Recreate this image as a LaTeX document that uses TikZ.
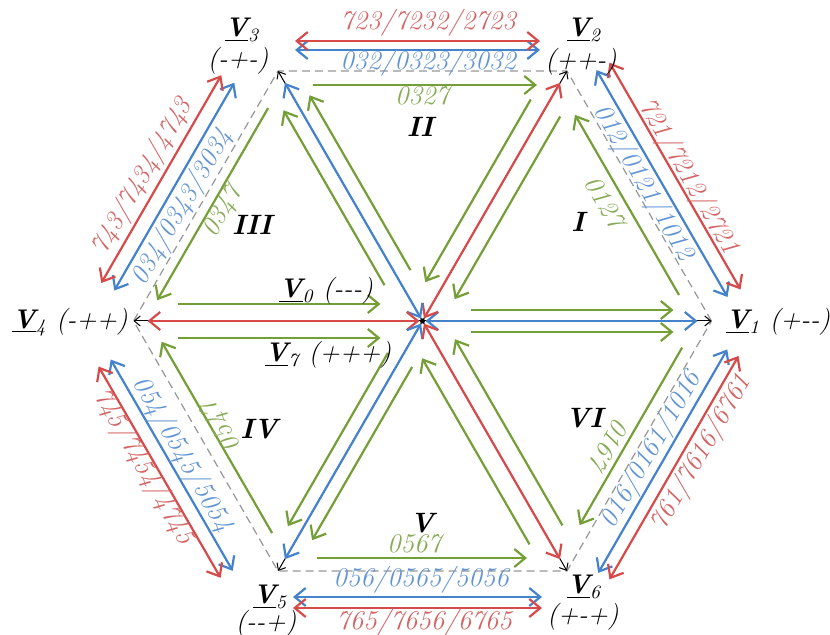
\documentclass[tikz,border=0pt]{standalone}
\usetikzlibrary{arrows.meta,calc}
\definecolor{cred}{RGB}{214,74,74}
\definecolor{cblue}{RGB}{68,130,204}
\definecolor{cgreen}{RGB}{116,158,54}
\definecolor{tred}{RGB}{212,100,100}
\definecolor{tblue}{RGB}{98,148,212}
\definecolor{tgreen}{RGB}{134,170,84}
\definecolor{hexgray}{RGB}{150,150,150}
\newcommand\Vv[1]{\underline{\textbf{\textit{V}}}\textsubscript{\textit{#1}}}
\tikzset{
  grn/.style={draw=cgreen, line width=1.1pt, -{Straight Barb[length=5.5pt,width=9pt]}},
  dbl/.style={line width=1.1pt, {Straight Barb[length=5.5pt,width=9pt]}-{Straight Barb[length=5.5pt,width=9pt]}},
  blk/.style={draw=black, line width=0.5pt, -{Straight Barb[length=3pt,width=5pt]}},
  hexedge/.style={draw=hexgray, line width=0.6pt, dash pattern=on 4pt off 2.5pt},
  txt/.style={font=\fontsize{13.5}{16}\selectfont\itshape, inner sep=0pt},
  rtxt/.style={txt, text=tred},
  btxt/.style={txt, text=tblue},
  gtxt/.style={txt, text=tgreen},
  numtxt/.style={font=\fontsize{14}{16}\selectfont\bfseries\itshape, inner sep=0pt},
}
\begin{document}
\begin{tikzpicture}[x=0.5pt,y=-0.5pt]
\useasboundingbox (0,0) rectangle (830,635);
% vertices
\coordinate (O) at (422.5,321);
\coordinate (V1) at (711.5,321);
\coordinate (V2) at (567,71);
\coordinate (V3) at (278,71);
\coordinate (V4) at (133.5,321);
\coordinate (V5) at (278,571);
\coordinate (V6) at (567,571);
% dashed hexagon
\draw[hexedge] (V1) -- (V2) -- (V3) -- (V4) -- (V5) -- (V6) -- cycle;
% radial arrows
\foreach \k/\ux/\uy/\nx/\ny/\dd/\ra/\rb/\col in {
 1/1/0/0/1/11/48/251/cblue,
 2/0.5/-0.866/0.866/0.5/17/35/246/cred,
 3/-0.5/-0.866/0.866/-0.5/15/50/252/cblue,
 4/-1/0/0/1/17/42/245/cred,
 5/-0.5/0.866/0.866/0.5/14/45/245/cblue,
 6/0.5/0.866/0.866/-0.5/19/32/247/cred}{
  \draw[blk] (O) -- (V\k);
  \coordinate (rca\k) at ($(O)+3*(\ux,\uy)$);
  \coordinate (rcb\k) at ($(O)+275*(\ux,\uy)$);
  \draw[dbl, draw=\col] (rca\k) -- (rcb\k);
  \coordinate (gpa\k) at ($(O)+\ra*(\ux,\uy)+\dd*(\nx,\ny)$);
  \coordinate (gpb\k) at ($(O)+\rb*(\ux,\uy)+\dd*(\nx,\ny)$);
  \coordinate (gqa\k) at ($(O)+\ra*(\ux,\uy)-\dd*(\nx,\ny)$);
  \coordinate (gqb\k) at ($(O)+\rb*(\ux,\uy)-\dd*(\nx,\ny)$);
  \ifodd\k
    \draw[grn] (gpa\k) -- (gpb\k);
    \draw[grn] (gqa\k) -- (gqb\k);
  \else
    \draw[grn] (gpb\k) -- (gpa\k);
    \draw[grn] (gqb\k) -- (gqa\k);
  \fi
}
\node[circle, fill=black, inner sep=0pt, minimum size=2.5pt] (Od) at (O) {};
% edge arrows
\foreach \i/\A/\B/\ux/\uy/\nx/\ny/\bo/\ro/\ea/\eb/\gi/\gpp/\gqq/\gd in {
 1/V3/V2/1/0/0/-1/21/30/17/262/14/35/259/1,
 2/V2/V1/0.5/0.866/0.866/-0.5/26/41/14/276/15/42/250/0,
 3/V3/V4/-0.5/0.866/-0.866/-0.5/32/47/32/272/10/37/259/1,
 4/V4/V5/0.5/0.866/-0.866/0.5/39/53/22/266/14/32/253/0,
 5/V5/V6/1/0/0/1/26/37/15/264/13/39/249/1,
 6/V6/V1/0.5/-0.866/0.866/0.5/28/41/14/272/12/46/251/0}{
  \coordinate (eba\i) at ($(\A)+\ea*(\ux,\uy)+\bo*(\nx,\ny)$);
  \coordinate (ebb\i) at ($(\A)+\eb*(\ux,\uy)+\bo*(\nx,\ny)$);
  \coordinate (era\i) at ($(\A)+\ea*(\ux,\uy)+\ro*(\nx,\ny)$);
  \coordinate (erb\i) at ($(\A)+\eb*(\ux,\uy)+\ro*(\nx,\ny)$);
  \draw[dbl, draw=cblue] (eba\i) -- (ebb\i);
  \draw[dbl, draw=cred] (era\i) -- (erb\i);
  \coordinate (ega\i) at ($(\A)+\gpp*(\ux,\uy)-\gi*(\nx,\ny)$);
  \coordinate (egb\i) at ($(\A)+\gqq*(\ux,\uy)-\gi*(\nx,\ny)$);
  \ifnum\gd=1
    \draw[grn] (ega\i) -- (egb\i);
  \else
    \draw[grn] (egb\i) -- (ega\i);
  \fi
}
% edge labels
\node[btxt] (b1) at (428,63) {032/0323/3032};
\node[rtxt] (r1) at (428,23) {723/7232/2723};
\node[btxt, rotate=-60] (b2) at (643,183) {012/0121/1012};
\node[rtxt, rotate=-60] (r2) at (688,177) {721/7212/2721};
\node[btxt, rotate=60] (b3) at (183,207) {034/0343/3034};
\node[rtxt, rotate=60] (r3) at (143,177) {743/7434/4743};
\node[btxt, rotate=-60] (b4) at (182,455) {054/0545/5054};
\node[rtxt, rotate=-60] (r4) at (143,467) {745/7454/4745};
\node[btxt] (b5) at (421,580) {056/0565/5056};
\node[rtxt] (r5) at (424,623) {765/7656/6765};
\node[btxt, rotate=60] (b6) at (652,450) {016/0161/1016};
\node[rtxt, rotate=60] (r6) at (702,453) {761/7616/6761};
% green sequence labels
\node[gtxt] (q2) at (422,96) {0327};
\node[gtxt, rotate=-60] (q1) at (605,202) {0127};
\node[gtxt, rotate=60] (q3) at (223,212) {0347};
\node[gtxt, rotate=120] (q4) at (222,426) {0547};
\node[gtxt] (q5) at (414,544) {0567};
\node[gtxt, rotate=-120] (q6) at (610,444) {0167};
% sector numbers
\node[numtxt] (sI) at (578,222) {I};
\node[numtxt] (sII) at (420,127) {II};
\node[numtxt] (sIII) at (252,225) {III};
\node[numtxt] (sIV) at (259,429) {IV};
\node[numtxt] (sV) at (422,523) {V};
\node[numtxt] (sVI) at (584,418) {VI};
% vertex labels
\node[txt] (L1) at (778,322) {\Vv{1} (+-{}-)};
\node[txt] (L4) at (70,322) {\Vv{4} (-++)};
\node[txt] (L2a) at (584,30) {\Vv{2}};
\node[txt] (L2b) at (581,62) {(++-)};
\node[txt] (L3a) at (242,30) {\Vv{3}};
\node[txt] (L3b) at (238,61) {(-+-)};
\node[txt] (L5a) at (270,597) {\Vv{5}};
\node[txt] (L5b) at (266,624) {(-{}-+)};
\node[txt] (L6a) at (584,587) {\Vv{6}};
\node[txt] (L6b) at (583,617) {(+-+)};
\node[txt] (L0) at (326,291) {\Vv{0} (-{}-{}-)};
\node[txt] (L7) at (328,355) {\Vv{7} (+++)};
\end{tikzpicture}
\end{document}
